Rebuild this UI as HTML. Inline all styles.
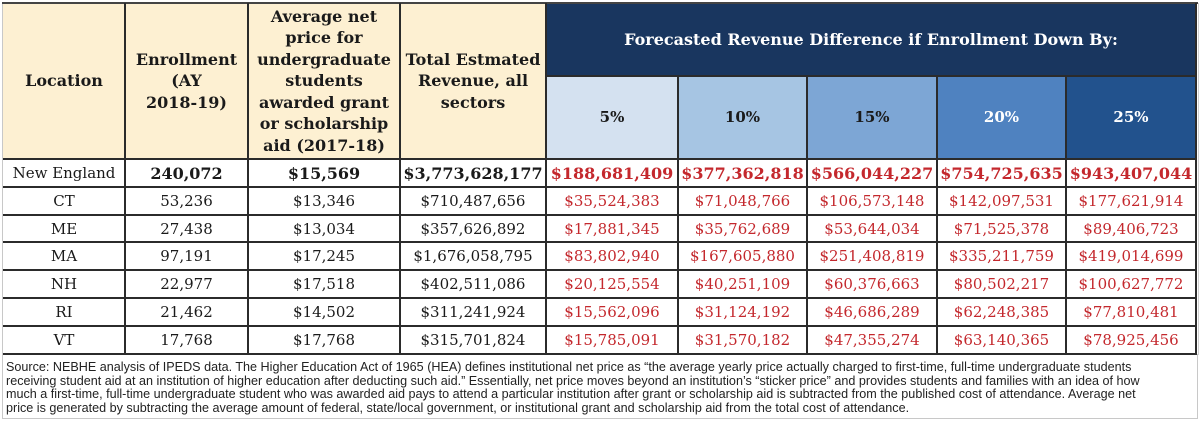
<!DOCTYPE html>
<html>
<head>
<meta charset="utf-8">
<style>
  html, body { margin:0; padding:0; background:#fff; }
  #wrap { position:relative; width:1200px; height:424px; overflow:hidden; background:#fff; }
  .c { position:absolute; display:flex; align-items:center; justify-content:center; text-align:center;
       font-family:"DejaVu Serif","Liberation Serif",serif; font-size:15px; color:#1a1a1a; white-space:nowrap; }
  .h { font-weight:bold; font-size:16px; line-height:21.5px; color:#1a1a1a; }
  .cream { background:#fdf0d2; }
  .b { font-weight:bold; font-size:16px; }
  .r { color:#c4282d; }
  .vl { position:absolute; width:2px; background:#2b2b2b; }
  .hl { position:absolute; height:2px; background:#2b2b2b; }
  .foot { position:absolute; left:2px; top:354px; width:1196px; height:65px; border-left:1px solid #c8c8c8; border-right:1px solid #c8c8c8; border-bottom:1px solid #c8c8c8; box-sizing:border-box; }
  .ft { position:absolute; left:6px; top:361px; font-family:"Liberation Sans",Arial,sans-serif; font-size:12.6px; line-height:13.7px; color:#222; white-space:nowrap; }
</style>
</head>
<body>
<div id="wrap">
  <div class="c cream h" style="left:3px;top:3px;width:122px;height:156px;">Location</div>
  <div class="c cream h" style="left:125px;top:3px;width:123px;height:156px;">Enrollment<br>(AY<br>2018-19)</div>
  <div class="c cream h" style="left:248px;top:3px;width:152px;height:156px;">Average net<br>price for<br>undergraduate<br>students<br>awarded grant<br>or scholarship<br>aid (2017-18)</div>
  <div class="c cream h" style="left:400px;top:3px;width:146px;height:156px;">Total Estmated<br>Revenue, all<br>sectors</div>
  <div class="c h" style="left:546px;top:3px;width:650px;height:73px;background:#19365f;color:#fff;">Forecasted Revenue Difference if Enrollment Down By:</div>
  <div class="c h" style="left:546px;top:76px;width:132px;height:83px;background:#d4e1f0;font-size:15px;">5%</div>
  <div class="c h" style="left:678px;top:76px;width:129px;height:83px;background:#a6c5e3;font-size:15px;">10%</div>
  <div class="c h" style="left:807px;top:76px;width:130px;height:83px;background:#7da6d5;font-size:15px;">15%</div>
  <div class="c h" style="left:937px;top:76px;width:129px;height:83px;background:#4f82c0;color:#fff;font-size:15px;">20%</div>
  <div class="c h" style="left:1066px;top:76px;width:130px;height:83px;background:#22528d;color:#fff;font-size:15px;">25%</div>

  <div class="c" style="left:3px;top:159px;width:122px;height:28px;">New England</div>
  <div class="c b" style="left:125px;top:159px;width:123px;height:28px;">240,072</div>
  <div class="c b" style="left:248px;top:159px;width:152px;height:28px;">$15,569</div>
  <div class="c b" style="left:400px;top:159px;width:146px;height:28px;">$3,773,628,177</div>
  <div class="c b r" style="left:546px;top:159px;width:132px;height:28px;">$188,681,409</div>
  <div class="c b r" style="left:678px;top:159px;width:129px;height:28px;">$377,362,818</div>
  <div class="c b r" style="left:807px;top:159px;width:130px;height:28px;">$566,044,227</div>
  <div class="c b r" style="left:937px;top:159px;width:129px;height:28px;">$754,725,635</div>
  <div class="c b r" style="left:1066px;top:159px;width:130px;height:28px;">$943,407,044</div>

  <div class="c" style="left:3px;top:187px;width:122px;height:28px;">CT</div>
  <div class="c" style="left:125px;top:187px;width:123px;height:28px;">53,236</div>
  <div class="c" style="left:248px;top:187px;width:152px;height:28px;">$13,346</div>
  <div class="c" style="left:400px;top:187px;width:146px;height:28px;">$710,487,656</div>
  <div class="c r" style="left:546px;top:187px;width:132px;height:28px;">$35,524,383</div>
  <div class="c r" style="left:678px;top:187px;width:129px;height:28px;">$71,048,766</div>
  <div class="c r" style="left:807px;top:187px;width:130px;height:28px;">$106,573,148</div>
  <div class="c r" style="left:937px;top:187px;width:129px;height:28px;">$142,097,531</div>
  <div class="c r" style="left:1066px;top:187px;width:130px;height:28px;">$177,621,914</div>

  <div class="c" style="left:3px;top:215px;width:122px;height:27px;">ME</div>
  <div class="c" style="left:125px;top:215px;width:123px;height:27px;">27,438</div>
  <div class="c" style="left:248px;top:215px;width:152px;height:27px;">$13,034</div>
  <div class="c" style="left:400px;top:215px;width:146px;height:27px;">$357,626,892</div>
  <div class="c r" style="left:546px;top:215px;width:132px;height:27px;">$17,881,345</div>
  <div class="c r" style="left:678px;top:215px;width:129px;height:27px;">$35,762,689</div>
  <div class="c r" style="left:807px;top:215px;width:130px;height:27px;">$53,644,034</div>
  <div class="c r" style="left:937px;top:215px;width:129px;height:27px;">$71,525,378</div>
  <div class="c r" style="left:1066px;top:215px;width:130px;height:27px;">$89,406,723</div>

  <div class="c" style="left:3px;top:242px;width:122px;height:28px;">MA</div>
  <div class="c" style="left:125px;top:242px;width:123px;height:28px;">97,191</div>
  <div class="c" style="left:248px;top:242px;width:152px;height:28px;">$17,245</div>
  <div class="c" style="left:400px;top:242px;width:146px;height:28px;">$1,676,058,795</div>
  <div class="c r" style="left:546px;top:242px;width:132px;height:28px;">$83,802,940</div>
  <div class="c r" style="left:678px;top:242px;width:129px;height:28px;">$167,605,880</div>
  <div class="c r" style="left:807px;top:242px;width:130px;height:28px;">$251,408,819</div>
  <div class="c r" style="left:937px;top:242px;width:129px;height:28px;">$335,211,759</div>
  <div class="c r" style="left:1066px;top:242px;width:130px;height:28px;">$419,014,699</div>

  <div class="c" style="left:3px;top:270px;width:122px;height:28px;">NH</div>
  <div class="c" style="left:125px;top:270px;width:123px;height:28px;">22,977</div>
  <div class="c" style="left:248px;top:270px;width:152px;height:28px;">$17,518</div>
  <div class="c" style="left:400px;top:270px;width:146px;height:28px;">$402,511,086</div>
  <div class="c r" style="left:546px;top:270px;width:132px;height:28px;">$20,125,554</div>
  <div class="c r" style="left:678px;top:270px;width:129px;height:28px;">$40,251,109</div>
  <div class="c r" style="left:807px;top:270px;width:130px;height:28px;">$60,376,663</div>
  <div class="c r" style="left:937px;top:270px;width:129px;height:28px;">$80,502,217</div>
  <div class="c r" style="left:1066px;top:270px;width:130px;height:28px;">$100,627,772</div>

  <div class="c" style="left:3px;top:298px;width:122px;height:28px;">RI</div>
  <div class="c" style="left:125px;top:298px;width:123px;height:28px;">21,462</div>
  <div class="c" style="left:248px;top:298px;width:152px;height:28px;">$14,502</div>
  <div class="c" style="left:400px;top:298px;width:146px;height:28px;">$311,241,924</div>
  <div class="c r" style="left:546px;top:298px;width:132px;height:28px;">$15,562,096</div>
  <div class="c r" style="left:678px;top:298px;width:129px;height:28px;">$31,124,192</div>
  <div class="c r" style="left:807px;top:298px;width:130px;height:28px;">$46,686,289</div>
  <div class="c r" style="left:937px;top:298px;width:129px;height:28px;">$62,248,385</div>
  <div class="c r" style="left:1066px;top:298px;width:130px;height:28px;">$77,810,481</div>

  <div class="c" style="left:3px;top:326px;width:122px;height:28px;">VT</div>
  <div class="c" style="left:125px;top:326px;width:123px;height:28px;">17,768</div>
  <div class="c" style="left:248px;top:326px;width:152px;height:28px;">$17,768</div>
  <div class="c" style="left:400px;top:326px;width:146px;height:28px;">$315,701,824</div>
  <div class="c r" style="left:546px;top:326px;width:132px;height:28px;">$15,785,091</div>
  <div class="c r" style="left:678px;top:326px;width:129px;height:28px;">$31,570,182</div>
  <div class="c r" style="left:807px;top:326px;width:130px;height:28px;">$47,355,274</div>
  <div class="c r" style="left:937px;top:326px;width:129px;height:28px;">$63,140,365</div>
  <div class="c r" style="left:1066px;top:326px;width:130px;height:28px;">$78,925,456</div>

  <div style="position:absolute;left:2px;top:3px;width:1px;height:352px;background:#c8c8c8;"></div>
  <div style="position:absolute;left:1198px;top:3px;width:1px;height:352px;background:#d0d0d0;"></div>

  <div class="hl" style="left:2px;top:2px;width:1196px;background:#444;"></div>
  <div class="hl" style="left:546px;top:75px;width:651px;"></div>
  <div class="hl" style="left:3px;top:158px;width:1194px;"></div>
  <div class="hl" style="left:3px;top:186px;width:1194px;"></div>
  <div class="hl" style="left:3px;top:214px;width:1194px;"></div>
  <div class="hl" style="left:3px;top:241px;width:1194px;"></div>
  <div class="hl" style="left:3px;top:269px;width:1194px;"></div>
  <div class="hl" style="left:3px;top:297px;width:1194px;"></div>
  <div class="hl" style="left:3px;top:325px;width:1194px;"></div>
  <div class="hl" style="left:3px;top:353px;width:1194px;"></div>

  <div class="vl" style="left:124px;top:3px;height:352px;"></div>
  <div class="vl" style="left:247px;top:3px;height:352px;"></div>
  <div class="vl" style="left:399px;top:3px;height:352px;"></div>
  <div class="vl" style="left:545px;top:3px;height:352px;"></div>
  <div class="vl" style="left:677px;top:76px;height:279px;"></div>
  <div class="vl" style="left:806px;top:76px;height:279px;"></div>
  <div class="vl" style="left:936px;top:76px;height:279px;"></div>
  <div class="vl" style="left:1065px;top:76px;height:279px;"></div>
  <div class="vl" style="left:1195px;top:3px;height:352px;"></div>

  <div class="foot"></div>
  <div class="ft">Source: NEBHE analysis of IPEDS data. The Higher Education Act of 1965 (HEA) defines institutional net price as “the average yearly price actually charged to first-time, full-time undergraduate students<br>receiving student aid at an institution of higher education after deducting such aid.” Essentially, net price moves beyond an institution’s “sticker price” and provides students and families with an idea of how<br>much a first-time, full-time undergraduate student who was awarded aid pays to attend a particular institution after grant or scholarship aid is subtracted from the published cost of attendance. Average net<br>price is generated by subtracting the average amount of federal, state/local government, or institutional grant and scholarship aid from the total cost of attendance.</div>
</div>
</body>
</html>
